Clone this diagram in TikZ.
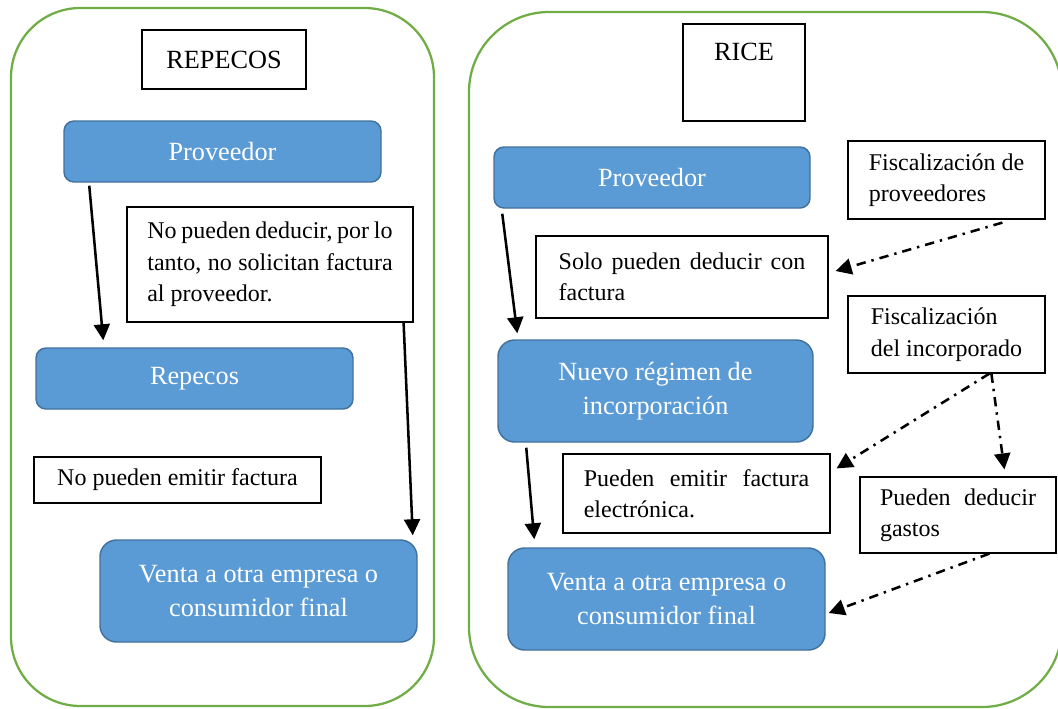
\documentclass[tikz,border=0pt]{standalone}
\usepackage{fontspec}
\setmainfont{Liberation Serif}
\usetikzlibrary{arrows.meta,calc}
\definecolor{blueF}{HTML}{5B9BD5}
\definecolor{blueD}{HTML}{41719C}
\definecolor{greenF}{HTML}{70AD47}
\newcommand{\jline}[2]{\makebox[#1][l]{#2}}
\tikzset{
  bluebox/.style={draw=blueD, fill=blueF, line width=1.1pt, rounded corners=#1, text=white,
    font=\fontsize{19.7}{26}\selectfont, align=center, inner sep=0pt},
  bluebox/.default=7.5pt,
  notebox/.style={draw=black, line width=0.9pt, fill=white, inner sep=0pt,
    font=\fontsize{18}{23.6}\selectfont},
  framebox/.style={draw=greenF, line width=1.7pt, rounded corners=#1, inner sep=0pt},
  arr/.style={-{Triangle[length=12pt,width=12pt]}, line width=1.9pt},
  ddarr/.style={arr, dash pattern=on 7pt off 4.5pt on 1.8pt off 4.5pt},
}
\begin{document}
\begin{tikzpicture}[x=0.75pt,y=-0.75pt]
\useasboundingbox (0,0) rectangle (1058,708);
\clip (0,0) rectangle (1058,708);
% frames
\node[framebox=52pt, minimum width=423*0.75pt, minimum height=698*0.75pt] (frameL) at (222.5,357) {};
\node[framebox=60pt, minimum width=593*0.75pt, minimum height=695*0.75pt] (frameR) at (765.5,359.5) {};
% left column
\node[notebox, font=\fontsize{19.7}{24}\selectfont, minimum width=164*0.75pt, minimum height=59*0.75pt] (repT) at (224,59.5) {REPECOS};
\node[bluebox, minimum width=317*0.75pt, minimum height=61*0.75pt] (prov1) at (222.5,151.5) {Proveedor};
\node[notebox, minimum width=286*0.75pt, minimum height=115*0.75pt, align=left] (note1) at (270,264.5)
  {\jline{184pt}{No\hfill pueden\hfill deducir,\hfill por\hfill lo}\\\jline{184pt}{tanto,\hfill no\hfill solicitan\hfill factura}\\\jline{184pt}{al proveedor.}};
\node[bluebox, minimum width=317*0.75pt, minimum height=61*0.75pt] (rep) at (194.5,378.5) {Repecos};
\node[notebox, minimum width=287*0.75pt, minimum height=46*0.75pt] (noemit) at (177.5,480) {No pueden emitir factura};
\node[bluebox=12.5pt, minimum width=317*0.75pt, minimum height=102*0.75pt] (venta1) at (258.5,591) {Venta a otra empresa o\\consumidor final};
% right column
\node[notebox, font=\fontsize{19.7}{24}\selectfont, minimum width=122*0.75pt, minimum height=97*0.75pt, text height=14pt, text depth=32.75pt] (rice) at (744,72.5) {RICE};
\node[bluebox, minimum width=316*0.75pt, minimum height=61*0.75pt] (prov2) at (652,177.5) {Proveedor};
\node[notebox, minimum width=197*0.75pt, minimum height=78*0.75pt, align=left] (fprov) at (946.5,180)
  {Fiscalización de\\proveedores};
\node[notebox, minimum width=292*0.75pt, minimum height=82*0.75pt, align=left] (solo) at (682,277)
  {\jline{185pt}{Solo\hfill pueden\hfill deducir\hfill con}\\\jline{185pt}{factura}};
\node[notebox, minimum width=197*0.75pt, minimum height=77*0.75pt, align=left] (finc) at (946.5,334.5)
  {Fiscalización\\del incorporado};
\node[bluebox=12.5pt, minimum width=315*0.75pt, minimum height=102*0.75pt] (nuevo) at (655.5,391) {Nuevo régimen de\\incorporación};
\node[notebox, minimum width=267*0.75pt, minimum height=79*0.75pt, align=left] (emit) at (696.5,493.5)
  {\jline{169pt}{Pueden\hfill emitir\hfill factura}\\\jline{169pt}{electrónica.}};
\node[notebox, minimum width=196*0.75pt, minimum height=76*0.75pt, align=left] (deduc) at (958,515)
  {\jline{117pt}{Pueden\hfill deducir}\\\jline{117pt}{gastos}};
\node[bluebox=12.5pt, minimum width=317*0.75pt, minimum height=102*0.75pt] (venta2) at (666.5,599) {Venta a otra empresa o\\consumidor final};
% solid arrows
\draw[arr] ($(prov1.south west)+(26,3)$) -- ($(rep.north west)+(68,-7)$);
\draw[arr] ($(note1.south east)+(-10,0)$) -- ($(venta1.north east)+(-5,-4)$);
\draw[arr] ($(prov2.south west)+(9,5)$) -- ($(nuevo.north west)+(20,-6)$);
\draw[arr] ($(nuevo.south west)+(29,5)$) -- ($(venta2.north west)+(27,-8)$);
% dash-dot arrows
\draw[ddarr] ($(fprov.south west)+(155,3)$) -- ($(solo.east)+(7,-6)$);
\draw[ddarr] ($(finc.south west)+(142,0)$) -- ($(emit.north east)+(6,15)$);
\draw[ddarr] ($(finc.south west)+(144,0)$) -- ($(deduc.north west)+(145,-7)$);
\draw[ddarr] ($(deduc.south west)+(130,0)$) -- ($(venta2.east)+(3,14)$);
\end{tikzpicture}
\end{document}
